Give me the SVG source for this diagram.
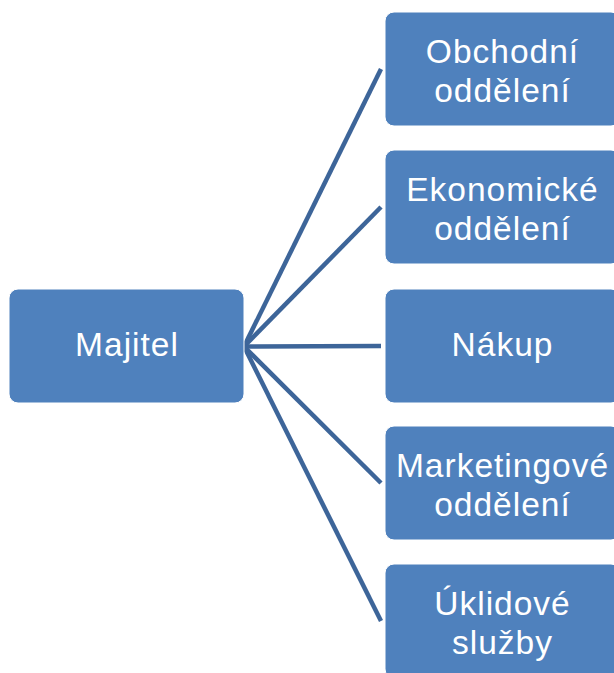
<svg xmlns="http://www.w3.org/2000/svg" width="614" height="673" viewBox="0 0 614 673">
<style>
.box{fill:#4f81bd;stroke:#ffffff;stroke-width:1}
.t{font-family:"Liberation Sans","Open Sans",sans-serif;font-size:33.5px;letter-spacing:1px;fill:#ffffff;text-anchor:middle}
.c{stroke:#3d6599;stroke-width:4.5;fill:none;stroke-linecap:butt}
</style>
<rect width="614" height="673" fill="#ffffff"/>
<g id="connectors">
<line class="c" x1="244" y1="346.5" x2="381" y2="69"/>
<line class="c" x1="244" y1="346.5" x2="381" y2="207"/>
<line class="c" x1="244" y1="346.5" x2="381" y2="346"/>
<line class="c" x1="244" y1="346.5" x2="381" y2="483"/>
<line class="c" x1="244" y1="346.5" x2="381" y2="621"/>
</g>
<g id="majitel">
<rect class="box" x="9" y="289" width="235" height="114" rx="9"/>
<text class="t" x="127" y="356">Majitel</text>
</g>
<g id="obchodni">
<rect class="box" x="385" y="12" width="235" height="114" rx="9"/>
<text class="t" x="502.5" y="62.5">Obchodní</text>
<text class="t" x="502.5" y="101.5">oddělení</text>
</g>
<g id="ekonomicke">
<rect class="box" x="385" y="150" width="235" height="114" rx="9"/>
<text class="t" x="502.5" y="200.5">Ekonomické</text>
<text class="t" x="502.5" y="239.5">oddělení</text>
</g>
<g id="nakup">
<rect class="box" x="385" y="289" width="235" height="114" rx="9"/>
<text class="t" x="502.5" y="356">Nákup</text>
</g>
<g id="marketingove">
<rect class="box" x="385" y="426" width="235" height="114" rx="9"/>
<text class="t" x="502.5" y="476.5">Marketingové</text>
<text class="t" x="502.5" y="515.5">oddělení</text>
</g>
<g id="uklidove">
<rect class="box" x="385" y="564" width="235" height="114" rx="9"/>
<text class="t" x="502.5" y="614.5">Úklidové</text>
<text class="t" x="502.5" y="653.5">služby</text>
</g>
</svg>
